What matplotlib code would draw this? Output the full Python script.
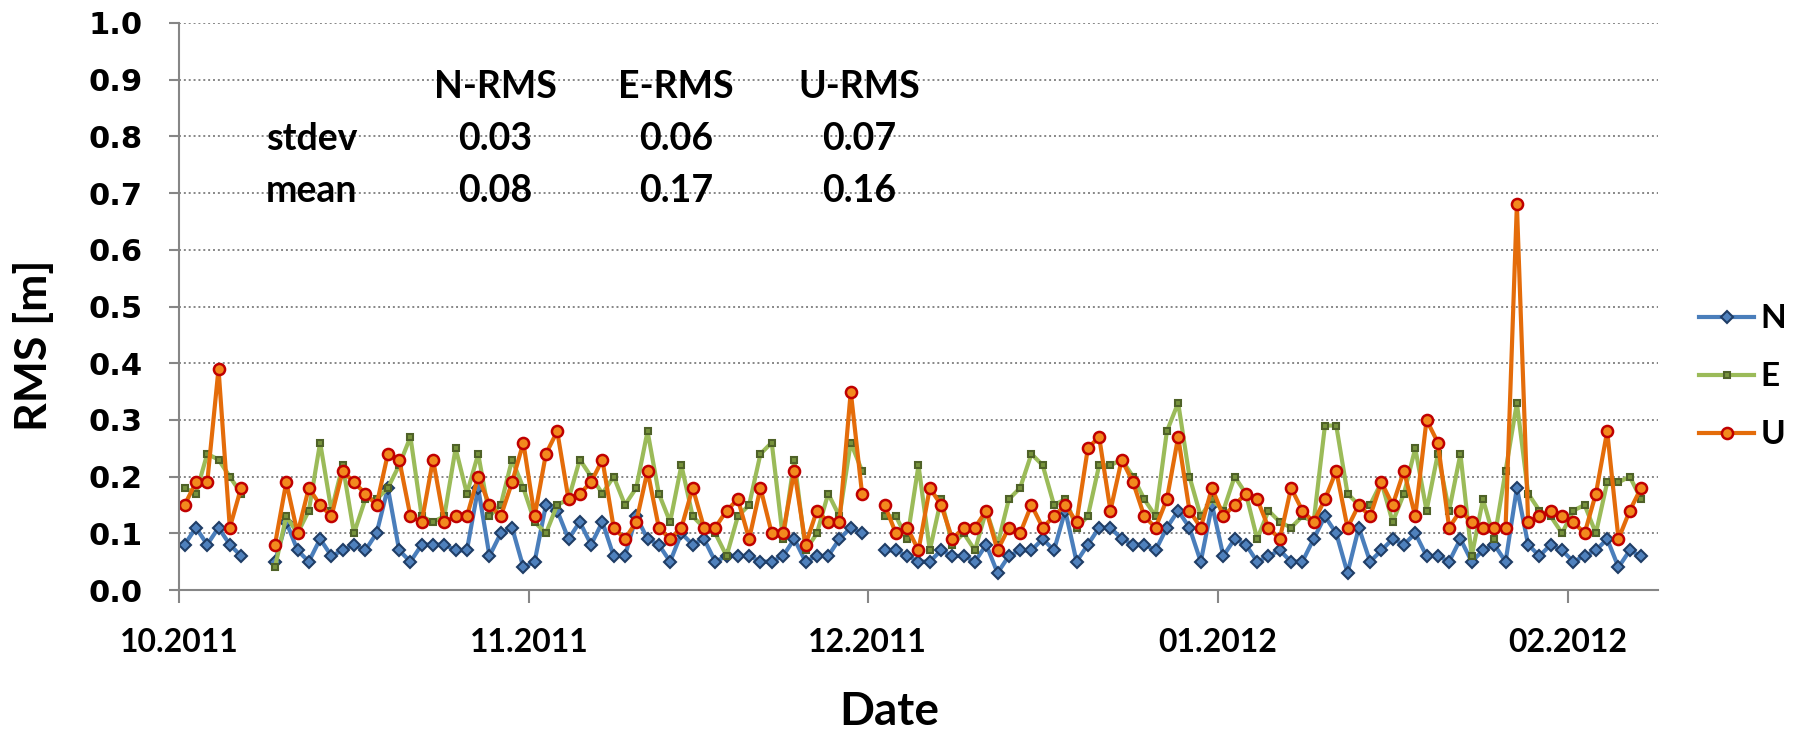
import numpy as np
import pandas as pd
import matplotlib
matplotlib.use("Agg")
import matplotlib.pyplot as plt
import matplotlib.dates as mdates

nan = np.nan

# daily values, 01.10.2011 - 07.02.2012 (nan = no solution that day)
n_rms = [
    # Oct
    .08, .11, .08, .11, .08, .06, nan, nan, .05, .12, .07, .05, .09, .06, .07, .08,
    .07, .10, .18, .07, .05, .08, .08, .08, .07, .07, .18, .06, .10, .11, .04,
    # Nov
    .05, .15, .14, .09, .12, .08, .12, .06, .06, .13, .09, .08, .05, .10, .08,
    .09, .05, .06, .06, .06, .05, .05, .06, .09, .05, .06, .06, .09, .11, .10,
    # Dec
    nan, .07, .07, .06, .05, .05, .07, .06, .06, .05, .08, .03, .06, .07, .07, .09,
    .07, .14, .05, .08, .11, .11, .09, .08, .08, .07, .11, .14, .11, .05, .15,
    # Jan
    .06, .09, .08, .05, .06, .07, .05, .05, .09, .13, .10, .03, .11, .05, .07, .09,
    .08, .10, .06, .06, .05, .09, .05, .07, .08, .05, .18, .08, .06, .08, .07,
    # Feb
    .05, .06, .07, .09, .04, .07, .06,
]
e_rms = [
    .18, .17, .24, .23, .20, .17, nan, nan, .04, .13, .10, .14, .26, .14, .22, .10,
    .16, .16, .18, .22, .27, .13, .12, .13, .25, .17, .24, .13, .15, .23, .18,
    .12, .10, .15, .16, .23, .20, .17, .20, .15, .18, .28, .17, .12, .22, .13,
    .11, .10, .06, .13, .15, .24, .26, .09, .23, .07, .10, .17, .13, .26, .21,
    nan, .13, .13, .09, .22, .07, .16, .08, .10, .07, .14, .08, .16, .18, .24, .22,
    .15, .16, .11, .13, .22, .22, .23, .20, .16, .13, .28, .33, .20, .13, .16,
    .14, .20, .17, .09, .14, .12, .11, .13, .12, .29, .29, .17, .15, .15, .19, .12,
    .17, .25, .14, .24, .14, .24, .06, .16, .09, .21, .33, .17, .14, .13, .10,
    .14, .15, .10, .19, .19, .20, .16,
]
u_rms = [
    .15, .19, .19, .39, .11, .18, nan, nan, .08, .19, .10, .18, .15, .13, .21, .19,
    .17, .15, .24, .23, .13, .12, .23, .12, .13, .13, .20, .15, .13, .19, .26,
    .13, .24, .28, .16, .17, .19, .23, .11, .09, .12, .21, .11, .09, .11, .18,
    .11, .11, .14, .16, .09, .18, .10, .10, .21, .08, .14, .12, .12, .35, .17,
    nan, .15, .10, .11, .07, .18, .15, .09, .11, .11, .14, .07, .11, .10, .15, .11,
    .13, .15, .12, .25, .27, .14, .23, .19, .13, .11, .16, .27, .14, .11, .18,
    .13, .15, .17, .16, .11, .09, .18, .14, .12, .16, .21, .11, .15, .13, .19, .15,
    .21, .13, .30, .26, .11, .14, .12, .11, .11, .11, .68, .12, .13, .14, .13,
    .12, .10, .17, .28, .09, .14, .18,
]

dates = pd.date_range("2011-10-01", periods=len(n_rms), freq="D")

table_cols = ["N-RMS", "E-RMS", "U-RMS"]
table_rows = ["stdev", "mean"]
table_vals = [["0.03", "0.06", "0.07"],
              ["0.08", "0.17", "0.16"]]

plt.rcParams["font.family"] = ["Lato", "DejaVu Sans"]
plt.rcParams["font.weight"] = "bold"

W, H = 1796, 735
fig = plt.figure(figsize=(W / 100, H / 100), dpi=100)
ax = fig.add_axes([179 / W, 1 - 590 / H, (1658 - 179) / W, (590 - 23) / H])

# points sit in the middle of each day (Excel date axis)
x = dates + pd.Timedelta(hours=12)

ax.plot(x, n_rms, color="#4A7EBB", lw=3, marker="D", ms=6,
        mfc="#4F81BD", mec="#1F3D66", mew=1.5, label="N")
ax.plot(x, e_rms, color="#9BBB59", lw=3, marker="s", ms=5,
        mfc="#77933C", mec="#4F6228", mew=1.5, label="E")
ax.plot(x, u_rms, color="#E46C0A", lw=3, marker="o", ms=8,
        mfc="#F28A1E", mec="#C00000", mew=1.8, label="U")

ax.set_ylim(0, 1.0)
ax.set_yticks(np.arange(0, 1.01, 0.1))
ax.set_yticklabels([f"{v:.1f}" for v in np.arange(0, 1.01, 0.1)],
                   family="DejaVu Sans", fontsize=22, fontweight="bold")
ax.set_xlim(pd.Timestamp("2011-10-01"), pd.Timestamp("2012-02-09"))
ax.xaxis.set_major_locator(mdates.MonthLocator())
ax.xaxis.set_major_formatter(mdates.DateFormatter("%m.%Y"))
for lbl in ax.get_xticklabels():
    lbl.set_fontsize(23)
    lbl.set_fontweight("bold")

ax.grid(axis="y", color="#868686", linestyle=(0, (1, 1.5)), linewidth=1.4)
ax.set_axisbelow(True)
for s in ["top", "right"]:
    ax.spines[s].set_visible(False)
for s in ["left", "bottom"]:
    ax.spines[s].set_color("#868686")
    ax.spines[s].set_linewidth(1.5)
ax.tick_params(axis="y", direction="out", length=7, width=1.5, color="#868686", pad=19)
ax.tick_params(axis="x", direction="out", length=9, width=1.5, color="#868686", pad=18)

# axis titles
fig.text(889 / W, 1 - 712 / H, "Date", ha="center", va="center", fontsize=33, fontweight="bold")
fig.text(34 / W, 1 - 345 / H, "RMS [m]", ha="center", va="center", rotation=90,
         fontsize=32, fontweight="bold")

# statistics table
col_x = [(495 - 179) / 1479, (676 - 179) / 1479, (859 - 179) / 1479]
row_y = [0.795, 0.703]
for cx, name in zip(col_x, table_cols):
    ax.text(cx, 0.887, name, transform=ax.transAxes, ha="center", va="center",
            fontsize=27, fontweight="bold")
for ry, rname, vals in zip(row_y, table_rows, table_vals):
    ax.text((266 - 179) / 1479, ry, rname, transform=ax.transAxes, ha="left", va="center",
            fontsize=27, fontweight="bold")
    for cx, v in zip(col_x, vals):
        ax.text(cx, ry, v, transform=ax.transAxes, ha="center", va="center",
                fontsize=27, fontweight="bold")

fig.legend(loc="center left", bbox_to_anchor=(1699 / W, 1 - 377 / H), frameon=False,
           fontsize=24, handlelength=1.65, handletextpad=0.2, labelspacing=0.87,
           borderpad=0, borderaxespad=0)

fig.savefig("out.png", dpi=100)
